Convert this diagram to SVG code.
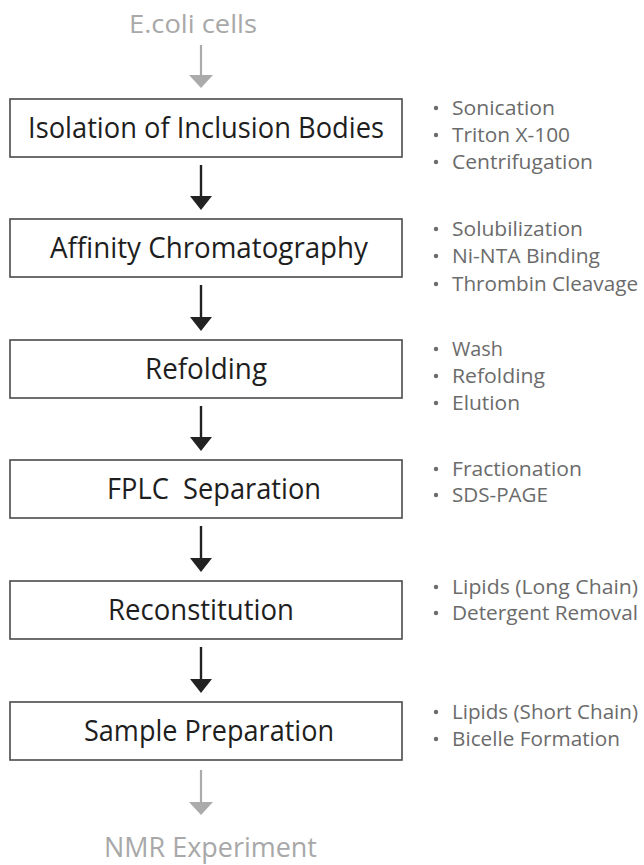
<svg xmlns="http://www.w3.org/2000/svg" width="644" height="865" viewBox="0 0 644 865">
  <style>
    .box rect { fill: #ffffff; stroke: #4a4a4a; stroke-width: 1.6; }
    .label { font-family: "Open Sans", "Noto Sans", sans-serif; font-size: 29px; fill: #1e1e1e; }
    .item { font-family: "Open Sans", "Noto Sans", sans-serif; font-size: 20.5px; fill: #6b6b6b; }
    .dot { fill: #6b6b6b; }
    .terminal { font-family: "Open Sans", "Noto Sans", sans-serif; fill: #a8a8a8; }
    .flow { stroke: #222222; stroke-width: 2.4; fill: none; }
    .flow-light { stroke: #ababab; stroke-width: 2.2; fill: none; }
  </style>
  <defs>
    <marker id="head-dark" viewBox="0 0 14 22" refX="8" refY="11" markerWidth="14" markerHeight="22" markerUnits="userSpaceOnUse" orient="auto">
      <path d="M0,0 L14,11 L0,22 Z" fill="#222222"/>
    </marker>
    <marker id="head-light" viewBox="0 0 13 24" refX="7" refY="12" markerWidth="13" markerHeight="24" markerUnits="userSpaceOnUse" orient="auto">
      <path d="M0,0 L13,12 L0,24 Z" fill="#ababab"/>
    </marker>
  </defs>

  <rect width="644" height="865" fill="#ffffff"/>

  <!-- start and end points -->
  <g id="ecoli">
    <text class="terminal" x="129" y="33" font-size="25" textLength="128" lengthAdjust="spacingAndGlyphs">E.coli cells</text>
  </g>
  <g id="nmr">
    <text class="terminal" x="104" y="857" font-size="27" textLength="213" lengthAdjust="spacingAndGlyphs">NMR Experiment</text>
  </g>

  <!-- connectors -->
  <g id="connectors">
    <line class="flow-light" x1="201" y1="45" x2="201" y2="82" marker-end="url(#head-light)"/>
    <line class="flow" x1="201" y1="165" x2="201" y2="204" marker-end="url(#head-dark)"/>
    <line class="flow" x1="201" y1="285" x2="201" y2="325" marker-end="url(#head-dark)"/>
    <line class="flow" x1="201" y1="406" x2="201" y2="445" marker-end="url(#head-dark)"/>
    <line class="flow" x1="201" y1="526" x2="201" y2="566" marker-end="url(#head-dark)"/>
    <line class="flow" x1="201" y1="647" x2="201" y2="687" marker-end="url(#head-dark)"/>
    <line class="flow-light" x1="201" y1="770" x2="201" y2="809" marker-end="url(#head-light)"/>
  </g>

  <!-- process steps -->
  <g id="step-isolation" class="box">
    <rect x="10" y="99" width="392" height="58"/>
    <text class="label" x="28" y="138" textLength="356" lengthAdjust="spacingAndGlyphs">Isolation of Inclusion Bodies</text>
  </g>
  <g id="step-affinity" class="box">
    <rect x="10" y="219" width="392" height="58"/>
    <text class="label" x="50" y="258" textLength="318" lengthAdjust="spacingAndGlyphs">Affinity Chromatography</text>
  </g>
  <g id="step-refolding" class="box">
    <rect x="10" y="340" width="392" height="58"/>
    <text class="label" x="145" y="379" textLength="122" lengthAdjust="spacingAndGlyphs">Refolding</text>
  </g>
  <g id="step-fplc" class="box">
    <rect x="10" y="460" width="392" height="58"/>
    <text class="label" x="107" y="499" textLength="214" lengthAdjust="spacingAndGlyphs" xml:space="preserve">FPLC  Separation</text>
  </g>
  <g id="step-reconstitution" class="box">
    <rect x="10" y="581" width="392" height="58"/>
    <text class="label" x="108" y="620" textLength="186" lengthAdjust="spacingAndGlyphs">Reconstitution</text>
  </g>
  <g id="step-sample" class="box">
    <rect x="10" y="702" width="392" height="58"/>
    <text class="label" x="84" y="741" textLength="250" lengthAdjust="spacingAndGlyphs">Sample Preparation</text>
  </g>

  <!-- details for each step -->
  <g id="notes-isolation">
    <circle class="dot" cx="436" cy="108" r="2.2"/>
    <text class="item" x="452" y="115" textLength="103" lengthAdjust="spacingAndGlyphs">Sonication</text>
    <circle class="dot" cx="436" cy="135" r="2.2"/>
    <text class="item" x="452" y="142" textLength="118" lengthAdjust="spacingAndGlyphs">Triton X-100</text>
    <circle class="dot" cx="436" cy="162" r="2.2"/>
    <text class="item" x="452" y="169" textLength="141" lengthAdjust="spacingAndGlyphs">Centrifugation</text>
  </g>
  <g id="notes-affinity">
    <circle class="dot" cx="436" cy="229" r="2.2"/>
    <text class="item" x="452" y="236" textLength="131" lengthAdjust="spacingAndGlyphs">Solubilization</text>
    <circle class="dot" cx="436" cy="256" r="2.2"/>
    <text class="item" x="452" y="263" textLength="148" lengthAdjust="spacingAndGlyphs">Ni-NTA Binding</text>
    <circle class="dot" cx="436" cy="284" r="2.2"/>
    <text class="item" x="452" y="291" textLength="186" lengthAdjust="spacingAndGlyphs">Thrombin Cleavage</text>
  </g>
  <g id="notes-refolding">
    <circle class="dot" cx="436" cy="349" r="2.2"/>
    <text class="item" x="452" y="356" textLength="51" lengthAdjust="spacingAndGlyphs">Wash</text>
    <circle class="dot" cx="436" cy="376" r="2.2"/>
    <text class="item" x="452" y="383" textLength="93" lengthAdjust="spacingAndGlyphs">Refolding</text>
    <circle class="dot" cx="436" cy="403" r="2.2"/>
    <text class="item" x="452" y="410" textLength="68" lengthAdjust="spacingAndGlyphs">Elution</text>
  </g>
  <g id="notes-fplc">
    <circle class="dot" cx="436" cy="469" r="2.2"/>
    <text class="item" x="452" y="476" textLength="130" lengthAdjust="spacingAndGlyphs">Fractionation</text>
    <circle class="dot" cx="436" cy="495" r="2.2"/>
    <text class="item" x="452" y="502" textLength="96" lengthAdjust="spacingAndGlyphs">SDS-PAGE</text>
  </g>
  <g id="notes-reconstitution">
    <circle class="dot" cx="436" cy="587" r="2.2"/>
    <text class="item" x="452" y="594" textLength="186" lengthAdjust="spacingAndGlyphs">Lipids (Long Chain)</text>
    <circle class="dot" cx="436" cy="613" r="2.2"/>
    <text class="item" x="452" y="620" textLength="186" lengthAdjust="spacingAndGlyphs">Detergent Removal</text>
  </g>
  <g id="notes-sample">
    <circle class="dot" cx="436" cy="712" r="2.2"/>
    <text class="item" x="452" y="719" textLength="186" lengthAdjust="spacingAndGlyphs">Lipids (Short Chain)</text>
    <circle class="dot" cx="436" cy="739" r="2.2"/>
    <text class="item" x="452" y="746" textLength="168" lengthAdjust="spacingAndGlyphs">Bicelle Formation</text>
  </g>
</svg>
